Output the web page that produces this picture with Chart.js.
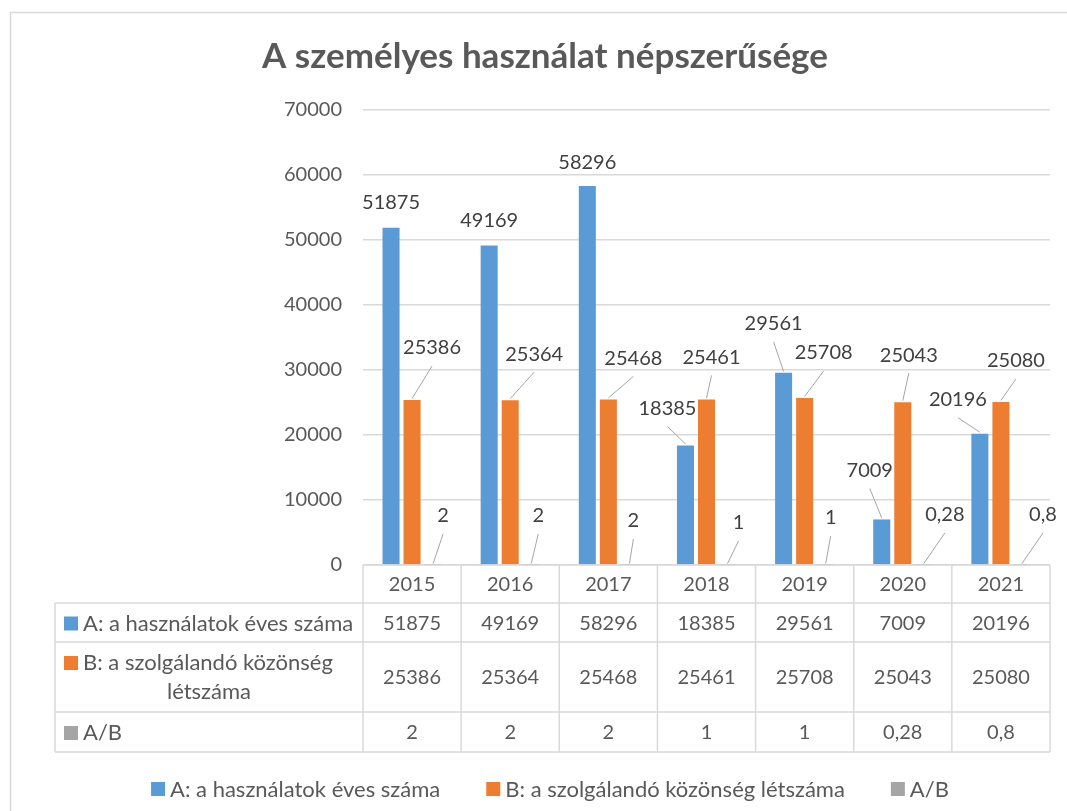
<!DOCTYPE html>
<html>
<head>
<meta charset="utf-8">
<title>A személyes használat népszerűsége</title>
<script src="https://cdn.jsdelivr.net/npm/chart.js@4.4.1/dist/chart.umd.min.js"></script>
<style>
    html, body { margin: 0; padding: 0; background: #fff; }
    canvas { display: block; }
</style>
</head>
<body>
<canvas id="chart" width="1067" height="811"></canvas>
<script>
// Chart data
const chartTitle = 'A személyes használat népszerűsége';
const years = ['2015', '2016', '2017', '2018', '2019', '2020', '2021'];
const seriesNames = ['A: a használatok éves száma', 'B: a szolgálandó közönség létszáma', 'A/B'];
const usesA = [51875, 49169, 58296, 18385, 29561, 7009, 20196];
const audienceB = [25386, 25364, 25468, 25461, 25708, 25043, 25080];
const ratioAB = [2, 2, 2, 1, 1, 0.28, 0.8];
const yMin = 0;
const yMax = 70000;
const yStep = 10000;

// Styling
const FONT = 'Lato, "Open Sans", sans-serif';
const TEXT_COLOR = '#595959';
const LABEL_COLOR = '#404040';
const GRID_COLOR = '#d9d9d9';
const LEADER_COLOR = '#a6a6a6';
const SERIES_COLORS = ['#5b9bd5', '#ed7d31', '#a5a5a5'];
const NUM_FONT = '20px ' + FONT;   // digits
const WORD_FONT = '22px ' + FONT;  // series names

// Data label offsets (px from the bar top), moved by hand like in the original sheet
const labelOffsets = [
    [[0, -25], [0, -25], [0, -24], [-18, -37], [-10, -49], [-12, -49], [-22, -34]],
    [[20, -52], [24, -46], [25, -41], [5, -42], [19, -45], [6, -47], [15, -41]],
    [[10, -49], [7, -49], [4, -44], [11, -42], [5, -47], [21, -50], [21, -50]]
];

// Decimal comma, no thousand separators
const formatValue = v => String(v).replace('.', ',');

/**
 * Data labels with leader lines
 */
const dataLabelPlugin = {
    id: 'dataLabels',
    afterDatasetsDraw(chart) {
        const ctx = chart.ctx;
        ctx.save();
        ctx.font = NUM_FONT;
        ctx.textAlign = 'center';
        ctx.textBaseline = 'middle';
        chart.data.datasets.forEach((ds, di) => {
            const meta = chart.getDatasetMeta(di);
            meta.data.forEach((bar, i) => {
                const [dx, dy] = labelOffsets[di][i];
                const lx = bar.x + dx;
                const ly = bar.y + dy;
                if (dy < -30) {
                    ctx.strokeStyle = LEADER_COLOR;
                    ctx.lineWidth = 1;
                    ctx.beginPath();
                    ctx.moveTo(lx, ly + 18);
                    ctx.lineTo(bar.x, bar.y - 1.5);
                    ctx.stroke();
                }
                ctx.fillStyle = LABEL_COLOR;
                ctx.fillText(formatValue(ds.data[i]), lx, ly);
            });
        });
        ctx.restore();
    }
};

/**
 * Frame, title, data table and legend
 */
const decorPlugin = {
    id: 'decor',
    beforeDraw(chart) {
        const ctx = chart.ctx;
        ctx.save();
        ctx.fillStyle = '#fff';
        ctx.fillRect(0, 0, chart.width, chart.height);
        ctx.strokeStyle = GRID_COLOR;
        ctx.lineWidth = 1.5;
        ctx.strokeRect(10.5, 12.5, chart.width + 20, chart.height + 20);
        ctx.restore();
    },
    afterDraw(chart) {
        const ctx = chart.ctx;
        const area = chart.chartArea;
        ctx.save();

        // Title
        ctx.fillStyle = TEXT_COLOR;
        ctx.font = 'bold 35px ' + FONT;
        ctx.textAlign = 'center';
        ctx.textBaseline = 'middle';
        ctx.fillText(chartTitle, 545, 57);

        // Data table
        const rows = [usesA, audienceB, ratioAB];
        const rowHeights = [38, 39, 70, 40];
        const x0 = 55;
        const xs = area.left;
        const xe = area.right;
        const colW = (xe - xs) / years.length;
        const top = area.bottom;
        const ys = [top];
        rowHeights.forEach(h => ys.push(ys[ys.length - 1] + h));

        ctx.strokeStyle = GRID_COLOR;
        ctx.lineWidth = 1.5;
        ctx.beginPath();
        ctx.moveTo(xs, ys[0]);
        ctx.lineTo(xe, ys[0]);
        for (let r = 1; r < ys.length; r++) {
            ctx.moveTo(x0, ys[r]);
            ctx.lineTo(xe, ys[r]);
        }
        ctx.moveTo(x0, ys[1]);
        ctx.lineTo(x0, ys[ys.length - 1]);
        for (let c = 0; c <= years.length; c++) {
            ctx.moveTo(xs + c * colW, ys[0]);
            ctx.lineTo(xs + c * colW, ys[ys.length - 1]);
        }
        ctx.stroke();

        ctx.font = NUM_FONT;
        ctx.fillStyle = TEXT_COLOR;
        ctx.textAlign = 'center';
        years.forEach((yr, c) => {
            ctx.fillText(yr, xs + (c + 0.5) * colW, (ys[0] + ys[1]) / 2 + 1);
        });

        rows.forEach((values, r) => {
            const yc = (ys[r + 1] + ys[r + 2]) / 2;
            ctx.font = NUM_FONT;
            values.forEach((v, c) => {
                ctx.fillStyle = TEXT_COLOR;
                ctx.textAlign = 'center';
                ctx.fillText(formatValue(v), xs + (c + 0.5) * colW, yc + 1);
            });

            // Row header with key, wrapped when too long
            ctx.font = WORD_FONT;
            const words = seriesNames[r].split(' ');
            const lines = [];
            let line = '';
            words.forEach(w => {
                const test = line ? line + ' ' + w : w;
                if (ctx.measureText(test).width > 276 && line) {
                    lines.push(line);
                    line = w;
                } else {
                    line = test;
                }
            });
            lines.push(line);
            const lineH = 30;
            const firstY = yc - (lines.length - 1) * lineH / 2;
            ctx.fillStyle = SERIES_COLORS[r];
            ctx.fillRect(64, firstY - 6, 14, 14);
            ctx.fillStyle = TEXT_COLOR;
            ctx.textAlign = 'left';
            ctx.fillText(lines[0], 83, firstY + 1);
            ctx.textAlign = 'center';
            for (let k = 1; k < lines.length; k++) {
                ctx.fillText(lines[k], (x0 + xs) / 2, firstY + k * lineH);
            }
        });

        // Legend
        ctx.font = WORD_FONT;
        const legendY = 789;
        const gap = 46;
        const box = 14;
        const widths = seriesNames.map(n => box + 5 + ctx.measureText(n).width);
        const total = widths.reduce((a, b) => a + b, 0) + gap * (widths.length - 1);
        let lx = 550 - total / 2;
        seriesNames.forEach((name, i) => {
            ctx.fillStyle = SERIES_COLORS[i];
            ctx.fillRect(lx, legendY - 7, box, box);
            ctx.fillStyle = TEXT_COLOR;
            ctx.textAlign = 'left';
            ctx.fillText(name, lx + box + 5, legendY + 1);
            lx += widths[i] + gap;
        });

        ctx.restore();
    }
};

const chart = new Chart(document.getElementById('chart').getContext('2d'), {
    type: 'bar',
    data: {
        labels: years,
        datasets: [
            { label: seriesNames[0], data: usesA, backgroundColor: SERIES_COLORS[0] },
            { label: seriesNames[1], data: audienceB, backgroundColor: SERIES_COLORS[1] },
            { label: seriesNames[2], data: ratioAB, backgroundColor: SERIES_COLORS[2] }
        ]
    },
    options: {
        responsive: false,
        animation: false,
        devicePixelRatio: 1,
        datasets: {
            bar: {
                categoryPercentage: 0.643,
                barPercentage: 0.81,
                borderWidth: 0
            }
        },
        layout: {
            padding: { left: 0, top: 110, right: 17, bottom: 246 }
        },
        plugins: {
            legend: { display: false },
            title: { display: false },
            tooltip: { enabled: false }
        },
        scales: {
            x: {
                display: false
            },
            y: {
                min: yMin,
                max: yMax,
                afterFit(scale) {
                    scale.width = 363;
                },
                ticks: {
                    stepSize: yStep,
                    padding: 21,
                    color: TEXT_COLOR,
                    font: { family: FONT, size: 20 },
                    callback: value => formatValue(value)
                },
                grid: {
                    color: GRID_COLOR,
                    lineWidth: 1.5,
                    drawTicks: false
                },
                border: { display: false }
            }
        }
    },
    plugins: [decorPlugin, dataLabelPlugin]
});
</script>
</body>
</html>
